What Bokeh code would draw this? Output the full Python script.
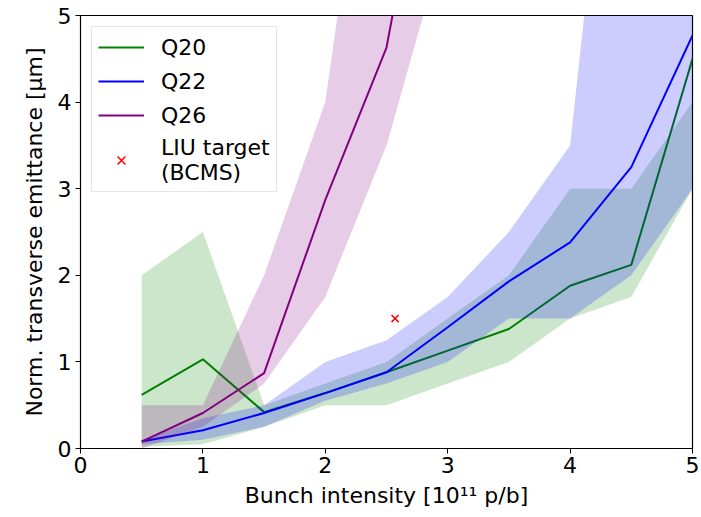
from bokeh.plotting import figure
from bokeh.models import Legend, LegendItem, ColumnDataSource
from bokeh.embed import file_html
from bokeh.resources import INLINE

# ---- data ----
intensity = [0.5, 1.0, 1.5, 2.0, 2.5, 3.0, 3.5, 4.0, 4.5, 5.0]

q20_mean = [0.62, 1.03, 0.42, 0.64, 0.88, 1.13, 1.38, 1.88, 2.12, 4.5]
q20_low = [0.02, 0.05, 0.25, 0.5, 0.5, 0.75, 1.0, 1.5, 1.75, 3.0]
q20_high = [2.0, 2.5, 0.5, 0.75, 1.0, 1.5, 2.0, 3.0, 3.0, 4.0]

q22_mean = [0.08, 0.21, 0.41, 0.64, 0.88, 1.4, 1.93, 2.38, 3.25, 4.77]
q22_low = [0.05, 0.1, 0.25, 0.55, 0.75, 1.0, 1.5, 1.5, 2.0, 3.0]
q22_high = [0.1, 0.35, 0.5, 1.0, 1.25, 1.75, 2.5, 3.5, 10.0, 10.0]

intensity_q26 = [0.5, 1.0, 1.5, 2.0, 2.5, 3.0]
q26_mean = [0.08, 0.41, 0.87, 2.87, 4.63, 8.4]
q26_low = [0.0, 0.25, 0.75, 1.75, 3.5, 6.0]
q26_high = [0.5, 0.5, 2.0, 4.0, 9.0, 12.0]

liu_x = [2.57]
liu_y = [1.5]

x_ticks = [0, 1, 2, 3, 4, 5]
y_ticks = [0, 1, 2, 3, 4, 5]

FONT = "DejaVu Sans"
FS = "22px"

p = figure(width=700, height=510, x_range=(0, 5), y_range=(0, 5),
           output_backend="svg", toolbar_location=None,
           min_border_left=80, min_border_right=8, min_border_top=15,
           min_border_bottom=60)
p.grid.visible = False
p.outline_line_color = "black"
p.outline_line_width = 1.2
p.background_fill_color = "white"
p.border_fill_color = "white"

s20 = ColumnDataSource(dict(x=intensity, m=q20_mean, lo=q20_low, hi=q20_high))
s22 = ColumnDataSource(dict(x=intensity, m=q22_mean, lo=q22_low, hi=q22_high))
s26 = ColumnDataSource(dict(x=intensity_q26, m=q26_mean, lo=q26_low, hi=q26_high))

p.varea(x="x", y1="lo", y2="hi", source=s20, fill_color="green", fill_alpha=0.2)
r20 = p.line(x="x", y="m", source=s20, line_color="green", line_width=2)
p.varea(x="x", y1="lo", y2="hi", source=s22, fill_color="blue", fill_alpha=0.2)
r22 = p.line(x="x", y="m", source=s22, line_color="blue", line_width=2)
p.varea(x="x", y1="lo", y2="hi", source=s26, fill_color="purple", fill_alpha=0.2)
r26 = p.line(x="x", y="m", source=s26, line_color="purple", line_width=2)
rliu = p.scatter(x=liu_x, y=liu_y, marker="x", size=10, line_color="red",
                 line_width=1.5)

for ax in (p.xaxis, p.yaxis):
    ax.major_tick_out = 5
    ax.major_tick_in = 0
    ax.minor_tick_line_color = None
    ax.axis_line_color = "black"
    ax.major_tick_line_color = "black"
    ax.major_label_text_font = FONT
    ax.major_label_text_font_size = FS
    ax.major_label_text_color = "black"
    ax.axis_label_text_font = FONT
    ax.axis_label_text_font_size = FS
    ax.axis_label_text_font_style = "normal"
    ax.axis_label_text_color = "black"

p.xaxis.ticker = x_ticks
p.yaxis.ticker = y_ticks
p.xaxis.axis_label = "Bunch intensity [10\u00b9\u00b9 p/b]"
p.yaxis.axis_label = "Norm. transverse emittance [\u03bcm]"
p.xaxis.major_label_standoff = 3
p.yaxis.major_label_standoff = 4
p.xaxis.axis_label_standoff = 7
p.yaxis.axis_label_standoff = 8

legend = Legend(items=[
    LegendItem(label="Q20", renderers=[r20]),
    LegendItem(label="Q22", renderers=[r22]),
    LegendItem(label="Q26", renderers=[r26]),
    LegendItem(label="LIU target\n(BCMS)", renderers=[rliu]),
], location="top_left")
legend.label_text_font = FONT
legend.label_text_font_size = FS
legend.label_text_color = "black"
legend.glyph_width = 46
legend.glyph_height = 28
legend.label_height = 28
legend.label_standoff = 17
legend.spacing = 6
legend.padding = 6
legend.margin = 11
legend.border_line_color = "#cccccc"
legend.border_line_width = 1
legend.background_fill_alpha = 0.8
p.add_layout(legend)

open("out.html", "w").write(file_html(p, INLINE))
